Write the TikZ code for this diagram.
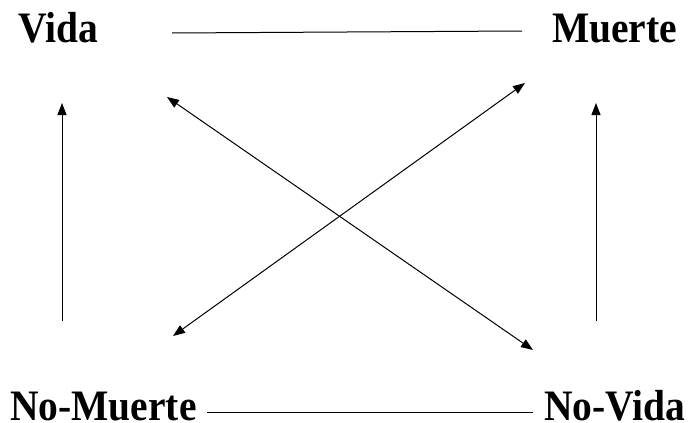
\documentclass[tikz,border=0pt]{standalone}
\usepackage{fontspec}
\usepackage{graphicx}
\setmainfont{Liberation Serif}
\usetikzlibrary{arrows.meta}
\newcommand{\tallword}[1]{\scalebox{1}[1.1]{#1}}
\begin{document}
\begin{tikzpicture}[x=1pt,y=-1pt,
  term/.style={inner sep=0pt,anchor=base west,text depth=0pt,font=\fontsize{39.5}{40}\selectfont\bfseries},
  link/.style={line width=1pt,black},
  arr/.style={line width=1pt,-{Triangle[length=12pt,width=9pt]}},
  darr/.style={line width=1pt,{Triangle[length=12pt,width=9pt]}-{Triangle[length=12pt,width=9pt]}}]
\useasboundingbox (0,0) rectangle (689,423);
\node[term] (vida) at (18,42) {\tallword{Vida}};
\node[term] (muerte) at (552,42) {\tallword{Muerte}};
\node[term] (nomuerte) at (10,420) {\tallword{No-Muerte}};
\node[term] (novida) at (544,420) {\tallword{No-Vida}};
% connector endpoints
\coordinate (t1) at (172,33);
\coordinate (t2) at (522,31);
\coordinate (b1) at (207,412);
\coordinate (b2) at (533,412);
\coordinate (l1) at (62,321);
\coordinate (l2) at (62,103);
\coordinate (r1) at (596,321);
\coordinate (r2) at (596,103);
\coordinate (d1a) at (167,97);
\coordinate (d1b) at (533,350);
\coordinate (d2a) at (173,336);
\coordinate (d2b) at (525,83);
\draw[link] (t1) -- (t2);
\draw[link] (b1) -- (b2);
\draw[arr] (l1) -- (l2);
\draw[arr] (r1) -- (r2);
\draw[darr] (d1a) -- (d1b);
\draw[darr] (d2a) -- (d2b);
\end{tikzpicture}
\end{document}
